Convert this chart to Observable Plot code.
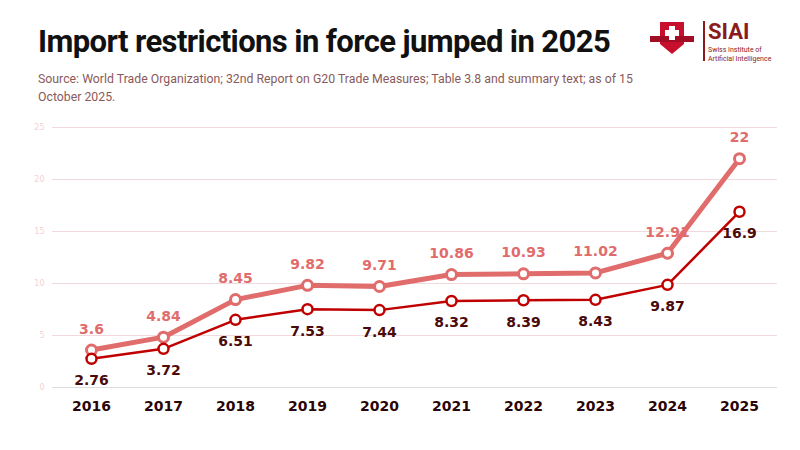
<!DOCTYPE html>
<html><head><meta charset="utf-8">
<script src="https://cdn.jsdelivr.net/npm/d3@7"></script>
<script src="https://cdn.jsdelivr.net/npm/@observablehq/plot@0.6"></script>
<style>
body{margin:0;background:#fff;width:800px;height:450px;overflow:hidden;position:relative}
#title{position:absolute;left:38px;top:23px;font:bold 31px "Roboto",sans-serif;color:#111;letter-spacing:-0.6px}
#sub{position:absolute;left:38px;top:70px;width:606px;font:12.3px "Roboto",sans-serif;color:#8a5a5a;line-height:18px}
#chart{position:absolute;left:0;top:110px}
#logo{position:absolute;left:648px;top:18px}
</style></head><body>
<div id="title">Import restrictions in force jumped in 2025</div>
<div id="sub">Source: World Trade Organization; 32nd Report on G20 Trade Measures; Table 3.8 and summary text; as of 15 October 2025.</div>
<svg id="logo" width="150" height="48">
<path d="M12 4 h24 v22 l-12 10 l-12 -10z" fill="#c8102e"/>
<rect x="2" y="18" width="44" height="6" fill="#a00d25"/>
<rect x="21" y="8" width="6" height="14" fill="#fff"/><rect x="17" y="12" width="14" height="6" fill="#fff"/>
<rect x="55" y="3" width="2" height="40" fill="#8b1a1a"/>
<text x="60" y="21" font-family="Roboto" font-weight="bold" font-size="22" fill="#8b1a1a">SIAI</text>
<text x="60" y="34" font-family="Roboto" font-size="7" fill="#8b1a1a">Swiss Institute of</text>
<text x="60" y="43" font-family="Roboto" font-size="7" fill="#8b1a1a">Artificial Intelligence</text>
</svg>
<div id="chart"></div>
<script>
const years = [2016,2017,2018,2019,2020,2021,2022,2023,2024,2025];
const seriesA = [3.6,4.84,8.45,9.82,9.71,10.86,10.93,11.02,12.91,22];
const seriesB = [2.76,3.72,6.51,7.53,7.44,8.32,8.39,8.43,9.87,16.9];
const yTicks = [0,5,10,15,20,25];
const A = years.map((y,i)=>({year:String(y),v:seriesA[i]}));
const B = years.map((y,i)=>({year:String(y),v:seriesB[i]}));
const cA="#e06c6c", cB="#c00000", lab="#4a0a0a";
const p = Plot.plot({
  width:800,height:340,marginLeft:52,marginRight:23,marginTop:17,marginBottom:63,
  style:{fontFamily:"DejaVu Sans, sans-serif"},
  x:{type:"point",domain:years.map(String),padding:0.5,label:null},
  y:{domain:[0,25],ticks:yTicks,label:null},
  marks:[
    Plot.gridY(yTicks.slice(1),{stroke:"#f2d9dc",strokeOpacity:1}),
    Plot.ruleY([0],{stroke:"#ddd"}),
    Plot.axisY(yTicks,{tickSize:0,fontSize:8,color:"#f7d0d4",tickPadding:8}),
    Plot.axisX({tickSize:0,fontSize:14,fontWeight:"bold",color:"#2a0505",tickPadding:14}),
    Plot.line(A,{x:"year",y:"v",stroke:cA,strokeWidth:5}),
    Plot.dot(A,{x:"year",y:"v",r:5,fill:"#fff",stroke:cA,strokeWidth:3}),
    Plot.line(B,{x:"year",y:"v",stroke:cB,strokeWidth:2.5}),
    Plot.dot(B,{x:"year",y:"v",r:5,fill:"#fff",stroke:cB,strokeWidth:2.5}),
    Plot.text(A,{x:"year",y:"v",text:d=>String(d.v),dy:-21,fill:cA,fontSize:14,fontWeight:"bold"}),
    Plot.text(B,{x:"year",y:"v",text:d=>String(d.v),dy:22,fill:lab,fontSize:14,fontWeight:"bold"})
  ]
});
document.getElementById("chart").appendChild(p);
</script></body></html>
